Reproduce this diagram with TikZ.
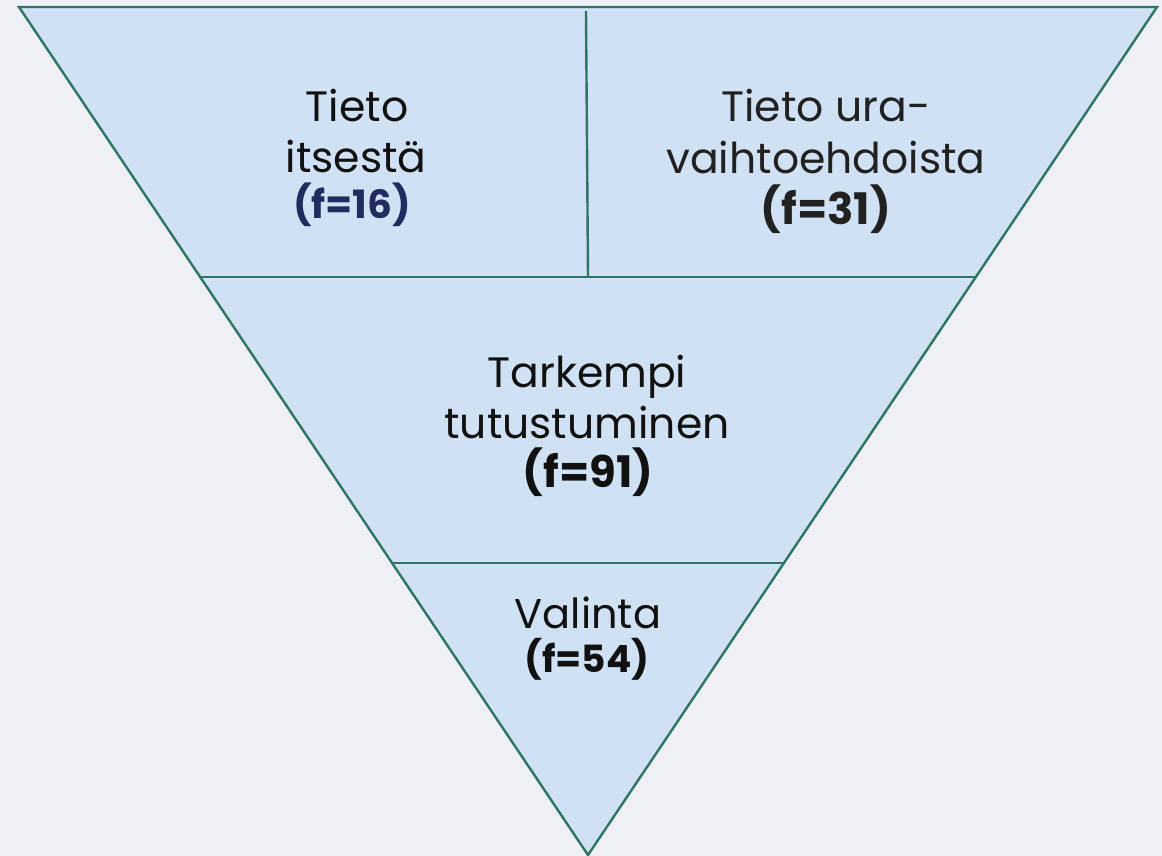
\documentclass[tikz,border=0pt]{standalone}
\usepackage{fontspec}
\setmainfont{Poppins}
\usetikzlibrary{calc}
\definecolor{bgcol}{HTML}{EFF0F5}
\definecolor{fillcol}{HTML}{CFE1F2}
\definecolor{edgecol}{HTML}{2F7565}
\definecolor{navy}{HTML}{222B5E}
\definecolor{txt}{HTML}{111111}
\tikzset{
  edge/.style={draw=edgecol, line width=2.4pt},
  lbl/.style={anchor=base, inner sep=0pt, text=txt, font=\fontsize{42.5}{50}\selectfont},
  lblsmall/.style={anchor=base, inner sep=0pt, text=txt, font=\fontsize{41.5}{49}\selectfont},
  num/.style={anchor=base, inner sep=0pt, text=txt, font=\fontsize{43.5}{51}\selectfont\bfseries},
  numsmall/.style={anchor=base, inner sep=0pt, text=txt, font=\fontsize{37.5}{44}\selectfont\bfseries},
}
\begin{document}
\begin{tikzpicture}[x=1pt, y=-1pt]
\fill[bgcol] (0,0) rectangle (1162,856);
\useasboundingbox (0,0) rectangle (1162,856);
\coordinate (TL) at (19,7);
\coordinate (TR) at (1157,7);
\coordinate (A) at (588,855);
\coordinate (L1) at ($(TL)!0.3184!(A)$);
\coordinate (R1) at ($(TR)!0.3184!(A)$);
\coordinate (L2) at ($(TL)!0.6557!(A)$);
\coordinate (R2) at ($(TR)!0.6557!(A)$);
\coordinate (VT) at (586,11);
\coordinate (VB) at (588,277);
\fill[fillcol] (TL) -- (TR) -- (A) -- cycle;
\draw[edge] (L1) -- (R1);
\draw[edge] (L2) -- (R2);
\draw[edge] (VT) -- (VB);
\draw[edge, line join=miter] (TL) -- (TR) -- (A) -- cycle;

\node[lbl] (a1) at (357,122) {Tieto};
\node[lbl] (a2) at (356,172) {itsestä};
\node[num, text=navy, font=\fontsize{39}{46}\selectfont\bfseries] (a3) at (352,218) {(f=16)};

\node[lbl, text=black!87] (b1) at (826,122) {Tieto ura-};
\node[lbl, text=black!87] (b2) at (826,173) {vaihtoehdoista};
\node[num, text=black!87] (b3) at (826,224) {(f=31)};

\node[lbl] (c1) at (587,387) {Tarkempi};
\node[lbl] (c2) at (587,438) {tutustuminen};
\node[num] (c3) at (588,487) {(f=91)};

\node[lblsmall] (d1) at (588,628) {Valinta};
\node[numsmall] (d2) at (587,672) {(f=54)};
\end{tikzpicture}
\end{document}
